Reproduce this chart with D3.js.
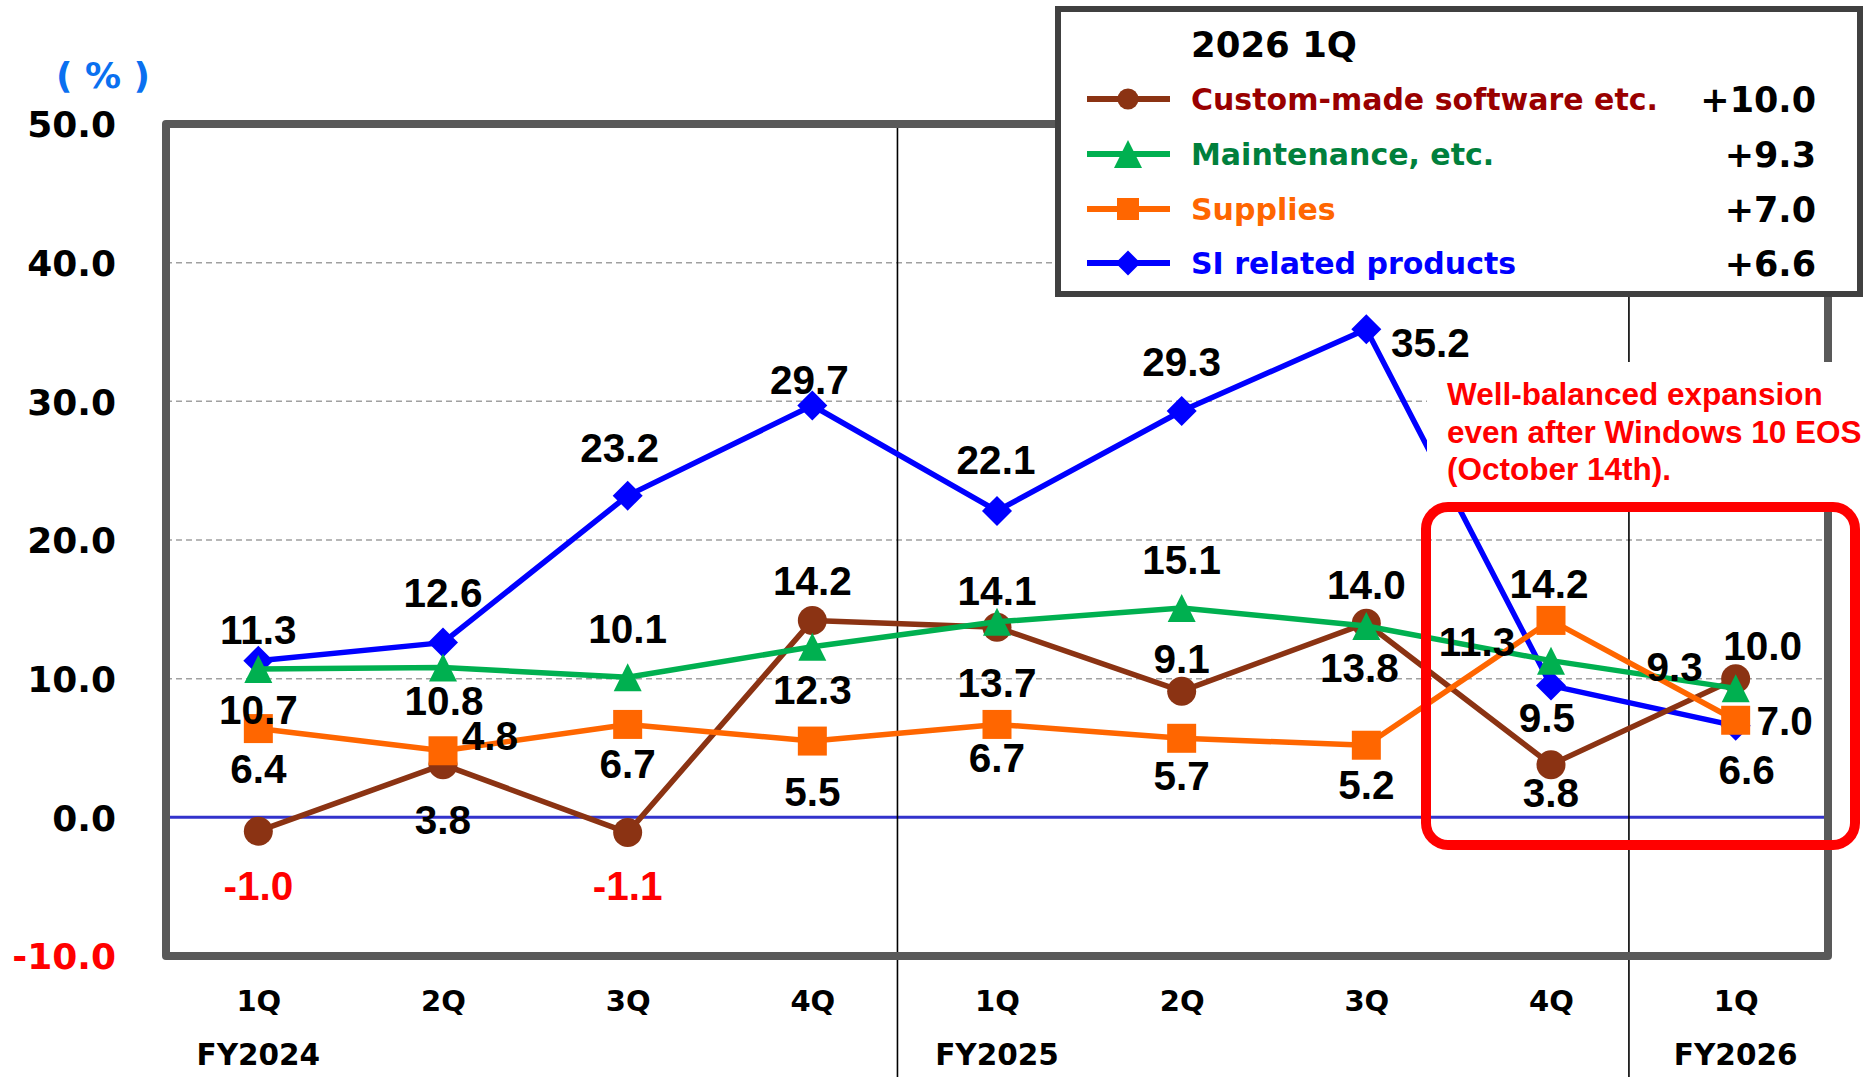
<!DOCTYPE html>
<html>
<head>
<meta charset="utf-8">
<script src="https://cdn.jsdelivr.net/npm/d3@7"></script>
<style>
  html, body { margin: 0; padding: 0; background: #ffffff; }
  svg { display: block; }
</style>
</head>
<body>
<svg id="chart" width="1873" height="1077"></svg>
<script>
// Quarterly year-on-year growth (%) by business category
const quarters = ["1Q", "2Q", "3Q", "4Q", "1Q", "2Q", "3Q", "4Q", "1Q"];
const fiscalYears = ["FY2024", "FY2025", "FY2026"];
const fiscalYearStart = [0, 4, 8];          // quarter index under which each FY label sits
const yearBreaks = [3, 7];                  // year boundaries follow these quarter indices
const yTicks = [50, 40, 30, 20, 10, 0, -10];
const gridTicks = [40, 30, 20, 10];

const customMade  = [-1.0, 3.8, -1.1, 14.2, 13.7, 9.1, 14.0, 3.8, 10.0];
const maintenance = [10.7, 10.8, 10.1, 12.3, 14.1, 15.1, 13.8, 11.3, 9.3];
const supplies    = [6.4, 4.8, 6.7, 5.5, 6.7, 5.7, 5.2, 14.2, 7.0];
const siProducts  = [11.3, 12.6, 23.2, 29.7, 22.1, 29.3, 35.2, 9.5, 6.6];

const legendTitle = "2026 1Q";
const noteLines = ["Well-balanced expansion", "even after Windows 10 EOS", "(October 14th)."];

// Series styling and value-label nudges (px) relative to each marker
const series = [
  { name: "Custom-made software etc.", values: customMade, color: "#8B3313", text: "#990000", shape: "circle",
    nudge: [[0,54],[0,55],[0,53],[0,-40],[0,55],[0,-33],[0,-39],[0,28],[27,-33]] },
  { name: "Maintenance, etc.", values: maintenance, color: "#00B050", text: "#00803C", shape: "triangle",
    nudge: [[0,40],[1,33],[0,-49],[0,43],[0,-31],[0,-49],[-7,41],[-74,-19],[-61,-22]] },
  { name: "Supplies", values: supplies, color: "#FF6600", text: "#FF6600", shape: "square",
    nudge: [[0,40],[47,-15],[0,39],[0,50],[0,33],[0,37],[0,39],[-2,-37],[49,0]] },
  { name: "SI related products", values: siProducts, color: "#0000FF", text: "#0000FF", shape: "diamond",
    nudge: [[0,-31],[0,-50],[-8,-48],[-3,-26],[-1,-51],[0,-50],[64,13],[-4,32],[11,44]] }
];
const drawOrder = [3, 0, 1, 2];

const svg = d3.select("#chart");
const plot = { left: 166, right: 1828, top: 124, bottom: 956 };

const x = d3.scalePoint().domain(d3.range(quarters.length))
  .range([plot.left, plot.right]).padding(0.5);
const y = d3.scaleLinear().domain([-10, 50]).range([plot.bottom, plot.top]);

const axisFont = "'DejaVu Sans', Verdana, sans-serif";
const labelFont = "'Liberation Sans', Arial, sans-serif";
const fmt = v => v.toFixed(1);              // plain hyphen for negatives

// marker path builders
function markerPath(shape, s) {
  const p = d3.path();
  if (shape === "circle") {
    p.arc(0, 0, s, 0, Math.PI * 2);
  } else if (shape === "triangle") {
    p.moveTo(0, -s); p.lineTo(s, s); p.lineTo(-s, s); p.closePath();
  } else if (shape === "square") {
    p.rect(-s, -s, 2 * s, 2 * s);
  } else {
    p.moveTo(0, -s); p.lineTo(s, 0); p.lineTo(0, s); p.lineTo(-s, 0); p.closePath();
  }
  return p.toString();
}
const markerSize = { circle: 14.5, triangle: 14, square: 14.5, diamond: 15 };
const legendMarkerSize = { circle: 10.5, triangle: 14, square: 11, diamond: 12.5 };

// gridlines
svg.append("g").selectAll("line").data(gridTicks).join("line")
  .attr("x1", plot.left).attr("x2", plot.right)
  .attr("y1", d => y(d)).attr("y2", d => y(d))
  .attr("stroke", "#a0a0a0").attr("stroke-width", 1.5).attr("stroke-dasharray", "6,4");

// zero line
svg.append("line")
  .attr("x1", plot.left).attr("x2", plot.right)
  .attr("y1", y(0)).attr("y2", y(0))
  .attr("stroke", "#3333CC").attr("stroke-width", 3);

// fiscal-year separators
const breakFrac = [0.461, 0.422];
const breakX = yearBreaks.map((i, k) => x(i) + x.step() * breakFrac[k]);
svg.append("g").selectAll("line").data(breakX).join("line")
  .attr("x1", d => d).attr("x2", d => d)
  .attr("y1", plot.top).attr("y2", 1077)
  .attr("stroke", "#000").attr("stroke-width", 1.6);

// plot frame
svg.append("rect")
  .attr("x", plot.left).attr("y", plot.top)
  .attr("width", plot.right - plot.left).attr("height", plot.bottom - plot.top)
  .attr("fill", "none").attr("stroke", "#595959").attr("stroke-width", 8)
  .attr("stroke-linejoin", "round");

// y axis
const yAxis = d3.axisLeft(y).tickValues(yTicks).tickFormat(fmt).tickSize(0).tickPadding(0);
const gy = svg.append("g").attr("transform", "translate(116,0)").call(yAxis);
gy.select(".domain").remove();
gy.selectAll("text")
  .attr("font-family", axisFont).attr("font-weight", "bold").attr("font-size", 36)
  .attr("fill", d => d < 0 ? "#FF0000" : "#000").attr("dy", "0.36em").attr("x", 0);

svg.append("text").attr("x", 103).attr("y", 75).attr("dy", "0.36em")
  .attr("text-anchor", "middle").attr("font-family", axisFont).attr("font-weight", "bold")
  .attr("font-size", 36).attr("fill", "#0A70F0").text("( % )");

// x axis: quarters and fiscal years
const xAxis = d3.axisBottom(x).tickFormat(i => quarters[i]).tickSize(0).tickPadding(0);
const gx = svg.append("g").attr("transform", "translate(0,1001)").call(xAxis);
gx.select(".domain").remove();
gx.selectAll("text")
  .attr("font-family", axisFont).attr("font-weight", "bold").attr("font-size", 29)
  .attr("fill", "#000").attr("y", 0).attr("dy", "0.36em");

svg.append("g").selectAll("text").data(fiscalYears).join("text")
  .attr("x", (d, k) => x(fiscalYearStart[k])).attr("y", 1054).attr("dy", "0.36em")
  .attr("text-anchor", "middle").attr("font-family", axisFont).attr("font-weight", "bold")
  .attr("font-size", 29.5).attr("fill", "#000").text(d => d);

// series lines and markers
const line = d3.line().x((d, i) => x(i)).y(d => y(d));
drawOrder.forEach(k => {
  const s = series[k];
  const g = svg.append("g");
  g.append("path").datum(s.values).attr("d", line)
    .attr("fill", "none").attr("stroke", s.color).attr("stroke-width", 5.5)
    .attr("stroke-linejoin", "round");
  g.selectAll("path.m").data(s.values).join("path").attr("class", "m")
    .attr("transform", (d, i) => `translate(${x(i)},${y(d)})`)
    .attr("d", markerPath(s.shape, markerSize[s.shape]))
    .attr("fill", s.color);
});

// value labels
series.forEach(s => {
  svg.append("g").selectAll("text").data(s.values).join("text")
    .attr("x", (d, i) => x(i) + s.nudge[i][0])
    .attr("y", (d, i) => y(d) + s.nudge[i][1])
    .attr("dy", "0.36em").attr("text-anchor", "middle")
    .attr("font-family", labelFont).attr("font-weight", "bold").attr("font-size", 40.5)
    .attr("fill", d => d < 0 ? "#FF0000" : "#000")
    .text(fmt);
});

// annotation with its own white backing
const note = svg.append("g");
note.append("rect").attr("x", 1427).attr("y", 362).attr("width", 446).attr("height", 140).attr("fill", "#fff");
note.selectAll("text").data(noteLines).join("text")
  .attr("x", 1447).attr("y", (d, i) => 405 + i * 37.5)
  .attr("font-family", labelFont).attr("font-weight", "bold").attr("font-size", 31.5)
  .attr("fill", "#FF0000").text(d => d);

// highlight box around the latest quarters
svg.append("rect")
  .attr("x", 1426).attr("y", 507).attr("width", 1855 - 1426).attr("height", 845 - 507)
  .attr("rx", 22).attr("ry", 22)
  .attr("fill", "none").attr("stroke", "#FF0000").attr("stroke-width", 10);

// legend
const lg = svg.append("g");
lg.append("rect").attr("x", 1058).attr("y", 9).attr("width", 1860 - 1058).attr("height", 294 - 9)
  .attr("fill", "#fff").attr("stroke", "#404040").attr("stroke-width", 6);
lg.append("text").attr("x", 1191).attr("y", 44).attr("dy", "0.36em")
  .attr("font-family", axisFont).attr("font-weight", "bold").attr("font-size", 35.5)
  .attr("fill", "#000").text(legendTitle);
const rowY = [99, 154, 209, 263];
series.forEach((s, k) => {
  const r = lg.append("g").attr("transform", `translate(0,${rowY[k]})`);
  r.append("line").attr("x1", 1087).attr("x2", 1170).attr("y1", 0).attr("y2", 0)
    .attr("stroke", s.color).attr("stroke-width", 6);
  r.append("path").attr("transform", "translate(1128,0)")
    .attr("d", markerPath(s.shape, legendMarkerSize[s.shape])).attr("fill", s.color);
  r.append("text").attr("x", 1191).attr("y", 0).attr("dy", "0.36em")
    .attr("font-family", axisFont).attr("font-weight", "bold").attr("font-size", 30)
    .attr("fill", s.text).text(s.name);
  const last = s.values[s.values.length - 1];
  r.append("text").attr("x", 1816).attr("y", 0).attr("dy", "0.36em").attr("text-anchor", "end")
    .attr("font-family", axisFont).attr("font-weight", "bold").attr("font-size", 35)
    .attr("fill", "#000").text((last >= 0 ? "+" : "") + fmt(last));
});
</script>
</body>
</html>
